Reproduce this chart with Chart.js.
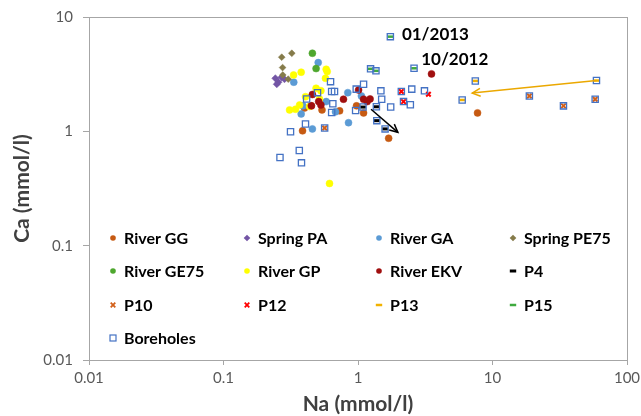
<!DOCTYPE html>
<html>
<head>
<meta charset="utf-8">
<script src="https://cdn.jsdelivr.net/npm/chart.js@4.4.0/dist/chart.umd.min.js"></script>
<style>
  html, body { margin: 0; padding: 0; background: #fff; }
</style>
</head>
<body>
<canvas id="chart" width="641" height="416"></canvas>
<script>
// Na / Ca (mmol/l)
var riverGG_na = [0.387, 0.45, 0.54, 0.73, 0.975, 1.10, 1.69, 7.74, 0.40];
var riverGG_ca = [1.01, 1.67, 1.54, 1.51, 1.67, 1.45, 0.87, 1.45, 1.60];
var springPA_na = [0.243, 0.256, 0.249, 0.27, 0.284];
var springPA_ca = [2.91, 2.69, 2.58, 2.97, 2.86];
var riverGA_na = [0.506, 0.333, 0.389, 0.378, 0.458, 0.85, 0.84, 0.68, 0.58, 1.06];
var riverGA_ca = [3.99, 2.69, 1.67, 1.42, 1.05, 1.19, 2.18, 1.48, 1.82, 2.04];
var springPE75_na = [0.271, 0.322, 0.275, 0.276, 0.303];
var springPE75_ca = [4.45, 4.82, 3.61, 3.11, 2.86];
var riverGE75_na = [0.458, 0.488];
var riverGE75_ca = [4.82, 3.54];
var riverGP_na = [0.332, 0.378, 0.58, 0.59, 0.573, 0.488, 0.407, 0.31, 0.343, 0.368, 0.436, 0.517, 0.53, 0.614];
var riverGP_ca = [3.11, 3.29, 3.49, 3.33, 2.91, 2.38, 2.01, 1.54, 1.56, 1.70, 1.65, 1.92, 2.27, 0.35];
var riverEKV_na = [0.458, 0.51, 0.53, 0.45, 0.78, 1.01, 1.10, 1.23, 1.17, 3.52];
var riverEKV_ca = [2.10, 1.82, 1.70, 1.67, 1.91, 2.30, 1.91, 1.92, 1.82, 3.18];
var p4_na = [1.09, 1.37, 1.38, 1.59];
var p4_ca = [1.63, 1.64, 1.24, 1.05];
var p10_na = [0.565, 18.8, 33.7, 58.0];
var p10_ca = [1.07, 2.04, 1.67, 1.91];
var p12_na = [2.10, 2.18, 3.34];
var p12_ca = [2.23, 1.82, 2.11];
var p13_na = [7.45, 5.95, 59.3];
var p13_ca = [2.76, 1.88, 2.78];
var p15_na = [1.74, 1.24, 1.36, 2.61];
var p15_ca = [6.73, 3.52, 3.38, 3.56];
var boreholes_na = [1.74, 1.24, 1.36, 2.61, 1.09, 1.37, 1.38, 1.59, 0.565, 18.8, 33.7, 58.0, 2.10, 2.18,
  7.45, 5.95, 59.3, 0.625, 1.10, 0.637, 0.669, 0.97, 1.48, 2.51, 3.12, 0.50, 0.415, 0.65, 1.50, 2.45,
  1.75, 0.637, 0.96, 0.407, 0.315, 0.366, 0.263, 0.38];
var boreholes_ca = [6.73, 3.52, 3.38, 3.56, 1.63, 1.64, 1.24, 1.05, 1.07, 2.04, 1.67, 1.91, 2.23, 1.82,
  2.76, 1.88, 2.78, 2.72, 2.58, 2.23, 2.23, 2.34, 2.26, 2.34, 2.26, 2.18, 1.92, 1.74, 1.91, 1.71,
  1.63, 1.46, 1.52, 1.16, 0.99, 0.68, 0.59, 0.53];

// trend arrows (start -> end)
var arrowP13_na = [59.3, 7.07];
var arrowP13_ca = [2.78, 2.16];
var arrowP4_na = [1.25, 1.98];
var arrowP4_ca = [1.56, 0.98];

// date labels
var noteText = ['01/2013', '10/2012'];
var noteNa = [2.12, 2.95];
var noteCa = [6.97, 4.21];

var xTicks = [0.01, 0.1, 1, 10, 100];
var xTickLabels = ['0.01', '0.1', '1', '10', '100'];
var yTicks = [0.01, 0.1, 1, 10];
var yTickLabels = ['0.01', '0.1', '1', '10'];

function pts(na, ca) {
  return na.map(function(v, i) { return {x: v, y: ca[i]}; });
}

var AXIS = '#A6A6A6';
var TXT = '#595959';

var series = [
  {label: 'River GG', data: pts(riverGG_na, riverGG_ca), pointStyle: 'circle', color: '#C65A12', r: 3.5},
  {label: 'Spring PA', data: pts(springPA_na, springPA_ca), pointStyle: 'rectRot', color: '#7355A5', r: 3.6},
  {label: 'River GA', data: pts(riverGA_na, riverGA_ca), pointStyle: 'circle', color: '#5B9BD5', r: 3.5},
  {label: 'Spring PE75', data: pts(springPE75_na, springPE75_ca), pointStyle: 'rectRot', color: '#857B4A', r: 3.4},
  {label: 'River GE75', data: pts(riverGE75_na, riverGE75_ca), pointStyle: 'circle', color: '#4EA72E', r: 3.5},
  {label: 'River GP', data: pts(riverGP_na, riverGP_ca), pointStyle: 'circle', color: '#FFFF00', r: 3.5},
  {label: 'River EKV', data: pts(riverEKV_na, riverEKV_ca), pointStyle: 'circle', color: '#A00F0F', r: 3.5},
  {label: 'P4', data: pts(p4_na, p4_ca), pointStyle: 'line', color: '#000000', r: 2.8, w: 3},
  {label: 'P10', data: pts(p10_na, p10_ca), pointStyle: 'crossRot', color: '#D2601A', r: 3.2, w: 2},
  {label: 'P12', data: pts(p12_na, p12_ca), pointStyle: 'crossRot', color: '#FF0000', r: 3.2, w: 2},
  {label: 'P13', data: pts(p13_na, p13_ca), pointStyle: 'line', color: '#F2B200', r: 2.8, w: 2.5},
  {label: 'P15', data: pts(p15_na, p15_ca), pointStyle: 'line', color: '#3FAA3F', r: 2.8, w: 2.5},
  {label: 'Boreholes', data: pts(boreholes_na, boreholes_ca), pointStyle: 'rect', color: '#4472C4', r: 4.4, w: 1.3, open: true}
];

var datasets = series.map(function(s, i) {
  return {
    label: s.label,
    data: s.data,
    showLine: false,
    pointStyle: s.pointStyle,
    pointRadius: s.r,
    pointHoverRadius: s.r,
    pointBackgroundColor: s.open ? 'rgba(0,0,0,0)' : s.color,
    pointBorderColor: s.color,
    pointBorderWidth: s.w || 0.5,
    order: 100 - i
  };
});

datasets.push({
  label: 'arrowP13', data: pts(arrowP13_na, arrowP13_ca), showLine: true, arrow: true,
  borderColor: '#EBA800', borderWidth: 1.5, pointRadius: 0, order: 1
});
datasets.push({
  label: 'arrowP4', data: pts(arrowP4_na, arrowP4_ca), showLine: true, arrow: true,
  borderColor: '#000000', borderWidth: 1.5, pointRadius: 0, order: 0
});

// legend laid out inside the plot, 4 columns
var legendCols = [113, 247, 379, 513];
var legendRows = [238, 271, 305, 338];

function drawMarker(ctx, style, color, x, y) {
  ctx.save();
  ctx.fillStyle = color;
  ctx.strokeStyle = color;
  ctx.beginPath();
  if (style === 'circle') {
    ctx.arc(x, y, 2.8, 0, Math.PI * 2);
    ctx.fill();
  } else if (style === 'rectRot') {
    ctx.moveTo(x, y - 3.3); ctx.lineTo(x + 3.3, y); ctx.lineTo(x, y + 3.3); ctx.lineTo(x - 3.3, y);
    ctx.closePath();
    ctx.fill();
  } else if (style === 'crossRot') {
    ctx.lineWidth = 1.8;
    ctx.moveTo(x - 2.3, y - 2.3); ctx.lineTo(x + 2.3, y + 2.3);
    ctx.moveTo(x + 2.3, y - 2.3); ctx.lineTo(x - 2.3, y + 2.3);
    ctx.stroke();
  } else if (style === 'line') {
    ctx.lineWidth = color === '#000000' ? 3 : 2.5;
    ctx.moveTo(x - 3.2, y); ctx.lineTo(x + 3.2, y);
    ctx.stroke();
  } else if (style === 'rect') {
    ctx.lineWidth = 1.2;
    ctx.strokeRect(x - 3, y - 3, 6, 6);
  }
  ctx.restore();
}

var overlayPlugin = {
  id: 'overlay',
  afterDatasetsDraw: function(chart) {
    var ctx = chart.ctx;
    var area = chart.chartArea;
    var xs = chart.scales.x, ys = chart.scales.y;

    // frame around plot area
    ctx.save();
    ctx.strokeStyle = AXIS;
    ctx.lineWidth = 1;
    ctx.strokeRect(Math.round(area.left) + 0.5, Math.round(area.top) + 0.5,
      Math.round(area.right - area.left), Math.round(area.bottom - area.top));
    ctx.restore();

    // arrow heads
    chart.data.datasets.forEach(function(ds, i) {
      if (!ds.arrow) return;
      var m = chart.getDatasetMeta(i).data;
      var a = m[m.length - 2], b = m[m.length - 1];
      var ang = Math.atan2(b.y - a.y, b.x - a.x);
      var len = 9, spread = 0.45;
      ctx.save();
      ctx.strokeStyle = ds.borderColor;
      ctx.lineWidth = ds.borderWidth;
      ctx.beginPath();
      ctx.moveTo(b.x - len * Math.cos(ang - spread), b.y - len * Math.sin(ang - spread));
      ctx.lineTo(b.x, b.y);
      ctx.lineTo(b.x - len * Math.cos(ang + spread), b.y - len * Math.sin(ang + spread));
      ctx.stroke();
      ctx.restore();
    });

    // date notes
    ctx.save();
    ctx.font = 'bold 17px Lato';
    ctx.fillStyle = '#000';
    ctx.textBaseline = 'middle';
    ctx.textAlign = 'left';
    noteText.forEach(function(t, i) {
      ctx.fillText(t, xs.getPixelForValue(noteNa[i]), ys.getPixelForValue(noteCa[i]));
    });
    ctx.restore();

    // legend
    ctx.save();
    ctx.font = 'bold 16px Lato';
    ctx.textBaseline = 'middle';
    series.forEach(function(s, i) {
      var x = legendCols[i % 4], y = legendRows[Math.floor(i / 4)];
      drawMarker(ctx, s.pointStyle, s.color, x, y);
      ctx.fillStyle = '#000';
      ctx.fillText(s.label, x + 11, y + 1);
    });
    ctx.restore();
  }
};

var ctx = document.getElementById('chart');
new Chart(ctx, {
  type: 'scatter',
  data: { datasets: datasets },
  options: {
    responsive: false,
    devicePixelRatio: 1,
    animation: false,
    layout: { padding: { top: 17, right: 14, bottom: 0, left: 0 } },
    plugins: {
      legend: { display: false },
      tooltip: { enabled: false }
    },
    scales: {
      x: {
        type: 'logarithmic',
        position: 'bottom',
        min: 0.01,
        max: 100,
        afterBuildTicks: function(s) { s.ticks = xTicks.map(function(v) { return {value: v}; }); },
        afterFit: function(s) { s.height = 56; s.paddingLeft = 0; s.paddingRight = 0; },
        ticks: {
          autoSkip: false, maxRotation: 0, padding: 4,
          color: TXT, font: { family: 'Lato', size: 15 },
          callback: function(v) { return xTickLabels[xTicks.indexOf(v)]; }
        },
        grid: { drawOnChartArea: false, drawTicks: true, tickLength: 5, color: AXIS },
        border: { color: AXIS },
        title: {
          display: true, text: 'Na (mmol/l)', color: '#404040',
          font: { family: 'Lato', size: 21, weight: 'bold', lineHeight: 1 },
          padding: { top: 0, bottom: 1 }
        }
      },
      y: {
        type: 'logarithmic',
        min: 0.01,
        max: 10,
        afterBuildTicks: function(s) { s.ticks = yTicks.map(function(v) { return {value: v}; }); },
        afterFit: function(s) { s.width = 89; s.paddingTop = 0; s.paddingBottom = 0; },
        ticks: {
          autoSkip: false, padding: 10,
          color: TXT, font: { family: 'Lato', size: 15 },
          callback: function(v) { return yTickLabels[yTicks.indexOf(v)]; }
        },
        grid: { drawOnChartArea: false, drawTicks: true, tickLength: 6, color: AXIS },
        border: { color: AXIS },
        title: {
          display: true, text: 'Ca (mmol/l)', color: '#404040',
          font: { family: 'Lato', size: 21, weight: 'bold', lineHeight: 1 },
          padding: { top: 12, bottom: 0 }
        }
      }
    }
  },
  plugins: [overlayPlugin]
});
</script>
</body>
</html>
